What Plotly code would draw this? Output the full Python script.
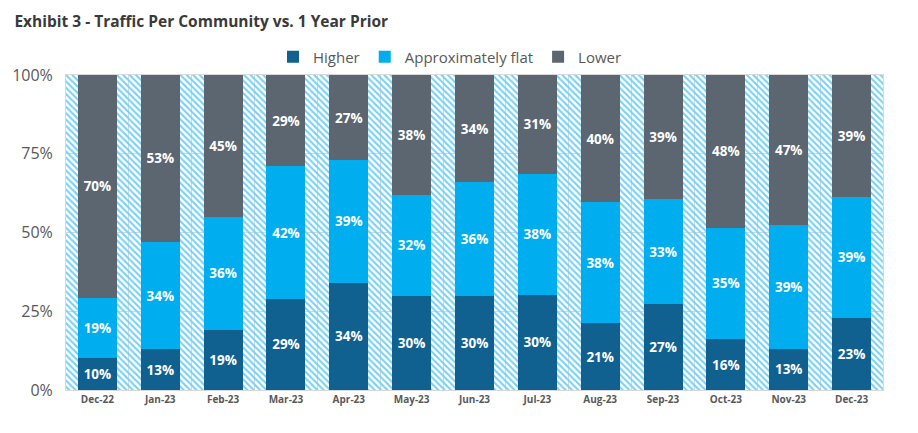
import plotly.graph_objects as go

categories = ["Dec-22", "Jan-23", "Feb-23", "Mar-23", "Apr-23", "May-23", "Jun-23",
              "Jul-23", "Aug-23", "Sep-23", "Oct-23", "Nov-23", "Dec-23"]
higher = [10, 13, 19, 29, 34, 30, 30, 30, 21, 27, 16, 13, 23]
flat = [19, 34, 36, 42, 39, 32, 36, 38, 38, 33, 35, 39, 39]
lower = [70, 53, 45, 29, 27, 38, 34, 31, 40, 39, 48, 47, 39]
y_ticks = [0, 25, 50, 75, 100]
y_tick_labels = ["0%", "25%", "50%", "75%", "100%"]

C_HIGH = "#10618F"
C_FLAT = "#00AEEF"
C_LOW = "#5B6670"
TXT = "#595959"

fig = go.Figure()

# hatched plot background
fig.add_trace(go.Bar(
    x=categories, y=[1] * len(categories), width=1,
    marker=dict(color="rgba(0,0,0,0)", line=dict(width=0),
                pattern=dict(shape="\\", fgcolor="#72D0F6", bgcolor="rgba(0,0,0,0)",
                             size=4.5, solidity=0.45, fillmode="replace")),
    showlegend=False, hoverinfo="skip", xaxis="x", yaxis="y",
))

label_font = dict(family="Open Sans", size=13.5, color="white", weight="bold")
for name, vals, col in [("Higher", higher, C_HIGH),
                        ("Approximately flat", flat, C_FLAT),
                        ("Lower", lower, C_LOW)]:
    fig.add_trace(go.Bar(
        name=name, x=categories, y=vals, width=0.62,
        marker=dict(color=col, line=dict(width=0)),
        text=[f"{v}%" for v in vals], texttemplate="%{text}",
        textposition="inside", insidetextanchor="middle",
        textfont=label_font, textangle=0,
        xaxis="x2", yaxis="y2",
    ))

fig.update_layout(
    width=918, height=433,
    margin=dict(l=58, r=43, t=67, b=51),
    barmode="stack", barnorm="percent",
    paper_bgcolor="white", plot_bgcolor="white",
    title=dict(text="<b>Exhibit 3 - Traffic Per Community vs. 1 Year Prior</b>",
               x=0.007, xanchor="left", y=0.968, yanchor="middle",
               font=dict(family="Open Sans", size=15.5, color="#3A3A3A")),
    legend=dict(orientation="h", x=0.47, xanchor="center", y=1.057, yanchor="middle",
                font=dict(family="Open Sans", size=15, color=TXT),
                itemwidth=30, traceorder="normal"),
    xaxis=dict(type="category", categoryorder="array", categoryarray=categories,
               tickson="boundaries", showgrid=True, gridcolor="#D9D9D9", gridwidth=1,
               ticks="", showline=True, linecolor="#D9D9D9", mirror=True,
               tickfont=dict(family="Open Sans", size=10, color=TXT, weight="bold"),
               range=[-0.5, len(categories) - 0.5], automargin=False),
    yaxis=dict(range=[0, 100], tickvals=y_ticks, ticktext=y_tick_labels,
               showgrid=True, gridcolor="#D9D9D9", gridwidth=1,
               zeroline=False, showline=True, linecolor="#D9D9D9", mirror=True,
               tickfont=dict(family="Open Sans", size=16, color=TXT), ticklen=0,
               ticklabelstandoff=9, automargin=False),
    xaxis2=dict(type="category", overlaying="x", matches="x", visible=False,
                categoryorder="array", categoryarray=categories),
    yaxis2=dict(overlaying="y", range=[0, 100], visible=False),
    uniformtext=dict(mode=False),
)

fig.write_html("out.html")
